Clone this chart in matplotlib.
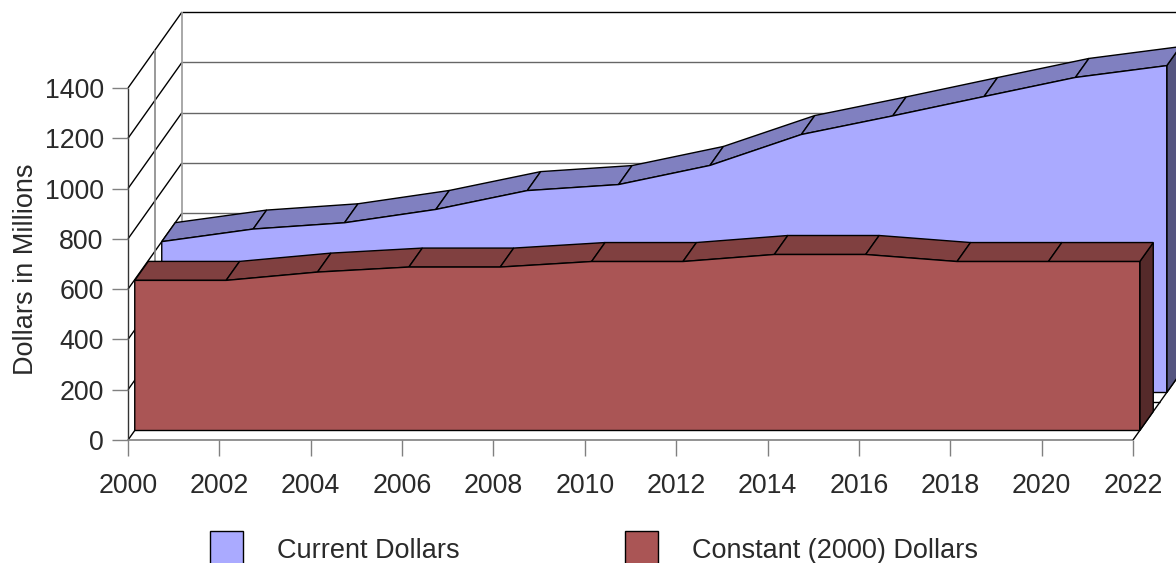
import matplotlib
matplotlib.use("Agg")
import matplotlib.pyplot as plt
import numpy as np

years = np.arange(2000, 2023, 2)
current_dollars = [600, 650, 675, 728, 803, 827, 903, 1026, 1100, 1177, 1253, 1300]
constant_dollars = [597, 597, 630, 650, 650, 672, 672, 700, 700, 672, 672, 672]
y_ticks = [0, 200, 400, 600, 800, 1000, 1200, 1400]
series_names = ["Current Dollars", "Constant (2000) Dollars"]

W, H = 1176, 563
TEXT = "#2a2a2a"
GRID = "#666666"

plt.rcParams["font.family"] = ["Liberation Sans", "DejaVu Sans"]

fig = plt.figure(figsize=(W / 100, H / 100), dpi=100)
ax = fig.add_axes([128 / W, 1 - 440 / H, (1133 - 128) / W, (440 - 88) / H])
ax.set_xlim(2000, 2022)
ax.set_ylim(0, 1400)
for s in ax.spines.values():
    s.set_visible(False)

# fake 3d: depth 0 is the front of the box, depth 1 the back wall
depth_x = 54 / (1005 / 22)
depth_y = 76 / (352 / 1400)


def proj(x, y, d):
    return x + d * depth_x, y + d * depth_y


def line3d(x0, y0, d0, x1, y1, d1, color="black", lw=1.0, zorder=1):
    a = proj(x0, y0, d0)
    b = proj(x1, y1, d1)
    ax.plot([a[0], b[0]], [a[1], b[1]], color=color, lw=lw, zorder=zorder,
            clip_on=False, solid_capstyle="butt")


# walls and floor
for t in y_ticks:
    line3d(2000, t, 0, 2000, t, 1, color="black")
    line3d(2000, t, 1, 2022, t, 1, color=GRID if t != 1400 else "black")
line3d(2000, 0, 0, 2000, 1400, 0, color="#333333")
line3d(2000, 0, 1, 2000, 1400, 1, color="#999999", lw=1.2)
line3d(2000, 0, 0.5, 2000, 1400, 0.5, color="#888888", lw=1.2)
line3d(2000, 0, 0.5, 2022, 0, 0.5, color="black")
line3d(2000, 0, 0, 2022, 0, 0, color="#808080", lw=1.2)
line3d(2022, 0, 0, 2022, 0, 1, color="black")


def ribbon(values, d_front, d_back, front, top, side, zorder):
    x = np.asarray(years, dtype=float)
    v = np.asarray(values, dtype=float)
    # side at the right end
    sx = [proj(x[-1], 0, d_front)[0], proj(x[-1], 0, d_back)[0],
          proj(x[-1], v[-1], d_back)[0], proj(x[-1], v[-1], d_front)[0]]
    sy = [proj(x[-1], 0, d_front)[1], proj(x[-1], 0, d_back)[1],
          proj(x[-1], v[-1], d_back)[1], proj(x[-1], v[-1], d_front)[1]]
    ax.fill(sx, sy, facecolor=side, edgecolor="black", lw=1, zorder=zorder, clip_on=False)
    # sloped top, one facet per interval
    for i in range(len(x) - 1):
        p = [proj(x[i], v[i], d_front), proj(x[i + 1], v[i + 1], d_front),
             proj(x[i + 1], v[i + 1], d_back), proj(x[i], v[i], d_back)]
        ax.fill([q[0] for q in p], [q[1] for q in p], facecolor=top, edgecolor="black",
                lw=1, zorder=zorder, clip_on=False)
    # front face
    fx, fy = proj(x, v, d_front)
    bx, by = proj(x, np.zeros_like(v), d_front)
    ax.fill(np.r_[fx, bx[::-1]], np.r_[fy, by[::-1]], facecolor=front, edgecolor="black",
            lw=1, zorder=zorder + 0.1, clip_on=False)


ribbon(current_dollars, 0.625, 0.875, "#AAAAFF", "#8080C0", "#555580", 3)
ribbon(constant_dollars, 0.125, 0.375, "#AA5555", "#804040", "#552A2A", 4)

ax.set_xticks(years)
ax.set_yticks(y_ticks)
ax.tick_params(axis="both", length=11.5, width=1, color="#808080", labelsize=19.3, labelcolor=TEXT)
ax.tick_params(axis="x", pad=12.5)
ax.tick_params(axis="y", pad=6)
ax.set_ylabel("Dollars in Millions", fontsize=19.5, color=TEXT)
ax.yaxis.set_label_coords(-89 / 1005, 0.485)

handles = [plt.Rectangle((0, 0), 1, 1, facecolor="#AAAAFF", edgecolor="black", lw=1),
           plt.Rectangle((0, 0), 1, 1, facecolor="#AA5555", edgecolor="black", lw=1)]
fig.legend(handles, series_names, ncol=2, frameon=False, loc="lower left",
           bbox_to_anchor=(210 / W, -4 / H), borderpad=0, borderaxespad=0,
           fontsize=19.5, labelcolor=TEXT, handlelength=1.22, handleheight=1.675,
           handletextpad=1.26, columnspacing=6.11)

fig.savefig("out.png", dpi=100)
